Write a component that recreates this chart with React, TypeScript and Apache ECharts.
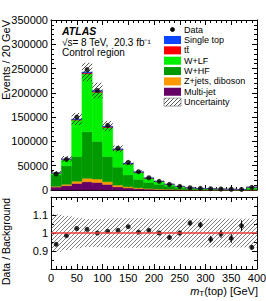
import React, { useEffect, useRef } from "react";
import * as echarts from "echarts";

// ---- data (events per 20 GeV bin) ----
const binLow = [0, 20, 40, 60, 80, 100, 120, 140, 160, 180, 200, 220, 240, 260, 280, 300, 320, 340, 360, 380];
const binWidth = 20;
const dataEvents = [33000, 63000, 150000, 248000, 205000, 133000, 86000, 57000, 37700, 25300, 17900, 11700, 7600, 4700, 3500, 2700, 2000, 1600, 1200, 5500];
const multiJet = [6000, 9000, 13500, 17000, 15500, 11500, 6500, 4000, 2700, 1800, 1200, 800, 500, 350, 250, 200, 150, 120, 100, 250];
const zjetsDiboson = [1500, 2700, 4500, 7000, 7000, 5500, 3500, 2500, 1800, 1200, 800, 700, 500, 350, 250, 200, 150, 130, 100, 250];
const wHF = [23500, 38300, 51000, 96000, 77500, 52000, 37000, 24500, 17500, 12800, 9700, 6500, 3500, 2100, 1500, 1200, 900, 650, 500, 2500];
const wLF = [3600, 12800, 74900, 119100, 101000, 59500, 35500, 22500, 14400, 8300, 5600, 3600, 2800, 1450, 1190, 1080, 710, 670, 390, 2780];
const ttbar = [300, 600, 1200, 2000, 2000, 1600, 1100, 800, 550, 400, 300, 200, 150, 100, 80, 60, 50, 40, 30, 100];
const singleTop = [300, 600, 1200, 2000, 2000, 1600, 1100, 800, 550, 400, 300, 200, 150, 100, 80, 60, 50, 40, 30, 100];
const relUncertainty = [0.105, 0.095, 0.085, 0.078, 0.078, 0.08, 0.082, 0.082, 0.082, 0.08, 0.08, 0.08, 0.08, 0.08, 0.08, 0.08, 0.08, 0.08, 0.08, 0.08];
const ratio = [0.937, 0.985, 1.025, 1.02, 1.0, 1.01, 1.015, 1.035, 1.005, 1.015, 1.0, 0.975, 1.0, 1.055, 1.045, 0.965, 0.995, 0.97, 1.04, 0.92];
const ratioErr = [0.006, 0.004, 0.003, 0.002, 0.002, 0.003, 0.003, 0.004, 0.005, 0.006, 0.008, 0.009, 0.012, 0.015, 0.017, 0.019, 0.022, 0.025, 0.03, 0.013];

const components = [
  { name: "Multi-jet", values: multiJet, color: "#660066" },
  { name: "Z+jets, diboson", values: zjetsDiboson, color: "#ff9900" },
  { name: "W+HF", values: wHF, color: "#009a00" },
  { name: "W+LF", values: wLF, color: "#00f000" },
  { name: "tt\u0304", values: ttbar, color: "#ff0000" },
  { name: "Single top", values: singleTop, color: "#0a46ff" },
];
const legendOrder = ["Single top", "tt\u0304", "W+LF", "W+HF", "Z+jets, diboson", "Multi-jet"];

const FONT = "'Liberation Sans', Arial, sans-serif";

function makeHatch(alpha: number): HTMLCanvasElement {
  const c = document.createElement("canvas");
  c.width = 4;
  c.height = 4;
  const ctx = c.getContext("2d")!;
  ctx.fillStyle = `rgba(40,40,40,${alpha})`;
  for (let i = 0; i < 4; i++) ctx.fillRect(i, 3 - i, 1, 1);
  return c;
}

export default function App() {
  const ref = useRef<HTMLDivElement>(null);
  useEffect(() => {
    if (!ref.current) return;
    const chart = echarts.init(ref.current, undefined, { renderer: "svg" });
    const hatch = { image: makeHatch(0.8), repeat: "repeat" } as any;
    const hatchLight = { image: makeHatch(0.6), repeat: "repeat" } as any;

    const rectRender = (fill: any) => (params: any, api: any) => {
      const x0 = api.value(0), x1 = api.value(1), y0 = api.value(2), y1 = api.value(3);
      const p0 = api.coord([x0, y0]);
      const p1 = api.coord([x1, y1]);
      const shape = echarts.graphic.clipRectByRect(
        { x: p0[0], y: p1[1], width: p1[0] - p0[0], height: p0[1] - p1[1] },
        { x: params.coordSys.x, y: params.coordSys.y, width: params.coordSys.width, height: params.coordSys.height }
      );
      if (!shape) return null;
      return {
        type: "rect",
        shape,
        style: typeof fill === "string" ? { fill, stroke: fill, lineWidth: 0.4 } : { fill },
      };
    };

    const totals = binLow.map((_, i) => components.reduce((s, c) => s + c.values[i], 0));
    const stackSeries: any[] = [];
    const base = binLow.map(() => 0);
    components.forEach((c) => {
      const d = binLow.map((lo, i) => {
        const b = base[i];
        base[i] += c.values[i];
        return [lo, lo + binWidth, b, base[i]];
      });
      stackSeries.push({
        type: "custom",
        name: c.name,
        xAxisIndex: 0,
        yAxisIndex: 0,
        renderItem: rectRender(c.color),
        encode: { x: [0, 1], y: [2, 3] },
        data: d,
        silent: true,
      });
    });

    const mainUnc = binLow.map((lo, i) => [lo, lo + binWidth, totals[i] * (1 - relUncertainty[i]), totals[i] * (1 + relUncertainty[i])]);
    const ratioUnc = binLow.map((lo, i) => [lo, lo + binWidth, 1 - relUncertainty[i], 1 + relUncertainty[i]]);

    const axisCommon = {
      axisLine: { show: true, onZero: false, lineStyle: { color: "#000", width: 1 } },
      axisTick: { show: true, inside: true, length: 5, lineStyle: { color: "#000", width: 1 } },
      minorTick: { show: true, splitNumber: 5, length: 3, lineStyle: { color: "#000", width: 1 } },
      splitLine: { show: false },
      minorSplitLine: { show: false },
    };
    const labelStyle = { color: "#000", fontSize: 11, fontFamily: FONT };

    const mkX = (gridIndex: number, position: string, showLabel: boolean) => ({
      type: "value",
      gridIndex,
      position,
      min: 0,
      max: 400,
      interval: 50,
      ...axisCommon,
      axisLabel: { show: showLabel, margin: 3, ...labelStyle, formatter: (v: number) => String(v) },
    });
    const mkYMain = (position: string, showLabel: boolean) => ({
      type: "value",
      gridIndex: 0,
      position,
      min: 0,
      max: 350000,
      interval: 50000,
      ...axisCommon,
      axisLabel: { show: showLabel, margin: 3, ...labelStyle, formatter: (v: number) => String(v) },
    });
    const mkYRatio = (position: string, showLabel: boolean) => ({
      type: "value",
      gridIndex: 1,
      position,
      min: 0.8,
      max: 1.2,
      interval: 0.1,
      ...axisCommon,
      minorTick: { ...axisCommon.minorTick, splitNumber: 2 },
      axisLabel: {
        show: showLabel,
        margin: 3,
        ...labelStyle,
        formatter: (v: number) => (Math.abs(v - 0.8) < 1e-6 || Math.abs(v - 1.2) < 1e-6 ? "" : String(+v.toFixed(1))),
      },
    });

    const legendGraphics: any[] = [];
    const legX = 164, legW = 17, legH = 8, textX = 184, legFont = 9;
    legendGraphics.push({ type: "circle", shape: { cx: 172.5, cy: 29.5, r: 2.4 }, style: { fill: "#000" } });
    legendGraphics.push({ type: "text", x: textX, y: 29.5, style: { text: "Data", fontSize: legFont, fontFamily: FONT, fill: "#000", verticalAlign: "middle" } });
    legendOrder.forEach((nm, k) => {
      const comp = components.find((c) => c.name === nm)!;
      const cy = 40 + k * 10.35;
      legendGraphics.push({ type: "rect", shape: { x: legX, y: cy - legH / 2, width: legW, height: legH }, style: { fill: comp.color } });
      legendGraphics.push({ type: "text", x: textX, y: cy, style: { text: nm, fontSize: legFont, fontFamily: FONT, fill: "#000", verticalAlign: "middle" } });
    });
    const uy = 40 + 6 * 10.35;
    legendGraphics.push({ type: "rect", shape: { x: legX, y: uy - legH / 2, width: legW, height: legH }, style: { fill: hatch, stroke: "#666", lineWidth: 0.6 } });
    legendGraphics.push({ type: "text", x: textX, y: uy, style: { text: "Uncertainty", fontSize: legFont, fontFamily: FONT, fill: "#000", verticalAlign: "middle" } });

    const option: any = {
      animation: false,
      backgroundColor: "#fff",
      grid: [
        { left: 51, top: 20, width: 206, height: 170, outerBoundsMode: "none", containLabel: false },
        { left: 51, top: 197, width: 206, height: 72, outerBoundsMode: "none", containLabel: false },
      ],
      xAxis: [mkX(0, "bottom", false), mkX(0, "top", false), mkX(1, "bottom", true), mkX(1, "top", false)],
      yAxis: [mkYMain("left", true), mkYMain("right", false), mkYRatio("left", true), mkYRatio("right", false)],
      series: [
        ...stackSeries,
        {
          type: "custom",
          name: "Uncertainty",
          xAxisIndex: 0,
          yAxisIndex: 0,
          renderItem: rectRender(hatch),
          encode: { x: [0, 1], y: [2, 3] },
          data: mainUnc,
          silent: true,
        },
        {
          type: "scatter",
          name: "Data",
          xAxisIndex: 0,
          yAxisIndex: 0,
          symbol: "circle",
          symbolSize: 5,
          itemStyle: { color: "#000" },
          data: binLow.map((lo, i) => [lo + binWidth / 2, dataEvents[i]]),
          silent: true,
        },
        {
          type: "custom",
          name: "RatioUnc",
          xAxisIndex: 2,
          yAxisIndex: 2,
          renderItem: rectRender(hatchLight),
          encode: { x: [0, 1], y: [2, 3] },
          data: ratioUnc,
          silent: true,
        },
        {
          type: "line",
          xAxisIndex: 2,
          yAxisIndex: 2,
          data: [[0, 1], [400, 1]],
          symbol: "none",
          lineStyle: { color: "#f03a3a", width: 1.5 },
          silent: true,
        },
        {
          type: "custom",
          name: "RatioErr",
          xAxisIndex: 2,
          yAxisIndex: 2,
          renderItem: (params: any, api: any) => {
            const x = api.value(0), lo = api.value(1), hi = api.value(2);
            const a = api.coord([x, lo]);
            const b = api.coord([x, hi]);
            return { type: "line", shape: { x1: a[0], y1: a[1], x2: b[0], y2: b[1] }, style: { stroke: "#000", lineWidth: 1 } };
          },
          encode: { x: 0, y: [1, 2] },
          data: binLow.map((lo, i) => [lo + binWidth / 2, ratio[i] - ratioErr[i], ratio[i] + ratioErr[i]]),
          silent: true,
        },
        {
          type: "scatter",
          name: "Ratio",
          xAxisIndex: 2,
          yAxisIndex: 2,
          symbol: "circle",
          symbolSize: 5,
          itemStyle: { color: "#000" },
          data: binLow.map((lo, i) => [lo + binWidth / 2, ratio[i]]),
          silent: true,
        },
      ],
      graphic: [
        { type: "text", x: 62, y: 31, style: { text: "ATLAS", fontSize: 10.5, fontWeight: "bold", fontStyle: "italic", fontFamily: FONT, fill: "#000", verticalAlign: "middle" } },
        { type: "text", x: 62, y: 42, style: { text: "\u221As= 8 TeV,  20.3 fb\u207B\u00B9", fontSize: 10, fontFamily: FONT, fill: "#000", verticalAlign: "middle" } },
        { type: "text", x: 62, y: 52.5, style: { text: "Control region", fontSize: 10, fontFamily: FONT, fill: "#000", verticalAlign: "middle" } },
        ...legendGraphics,
        { type: "text", x: 6, y: 20, rotation: Math.PI / 2, style: { text: "Events / 20 GeV", fontSize: 11, fontFamily: FONT, fill: "#000", align: "right", verticalAlign: "middle" } },
        { type: "text", x: 6, y: 198, rotation: Math.PI / 2, style: { text: "Data / Background", fontSize: 10.5, fontFamily: FONT, fill: "#000", align: "right", verticalAlign: "middle" } },
        {
          type: "text",
          x: 258,
          y: 291,
          style: {
            text: "{i|m}{s|T}(top) [GeV]",
            fontSize: 11,
            fontFamily: FONT,
            fill: "#000",
            align: "right",
            verticalAlign: "middle",
            rich: {
              i: { fontStyle: "italic", fontSize: 11, fontFamily: FONT },
              s: { fontSize: 8, fontFamily: FONT, verticalAlign: "bottom", padding: [5, 0, 0, 0] },
            },
          },
        },
      ],
    };
    chart.setOption(option);
    return () => chart.dispose();
  }, []);
  return <div ref={ref} style={{ position: "fixed", left: 0, top: 0, width: 266, height: 301 }} />;
}
